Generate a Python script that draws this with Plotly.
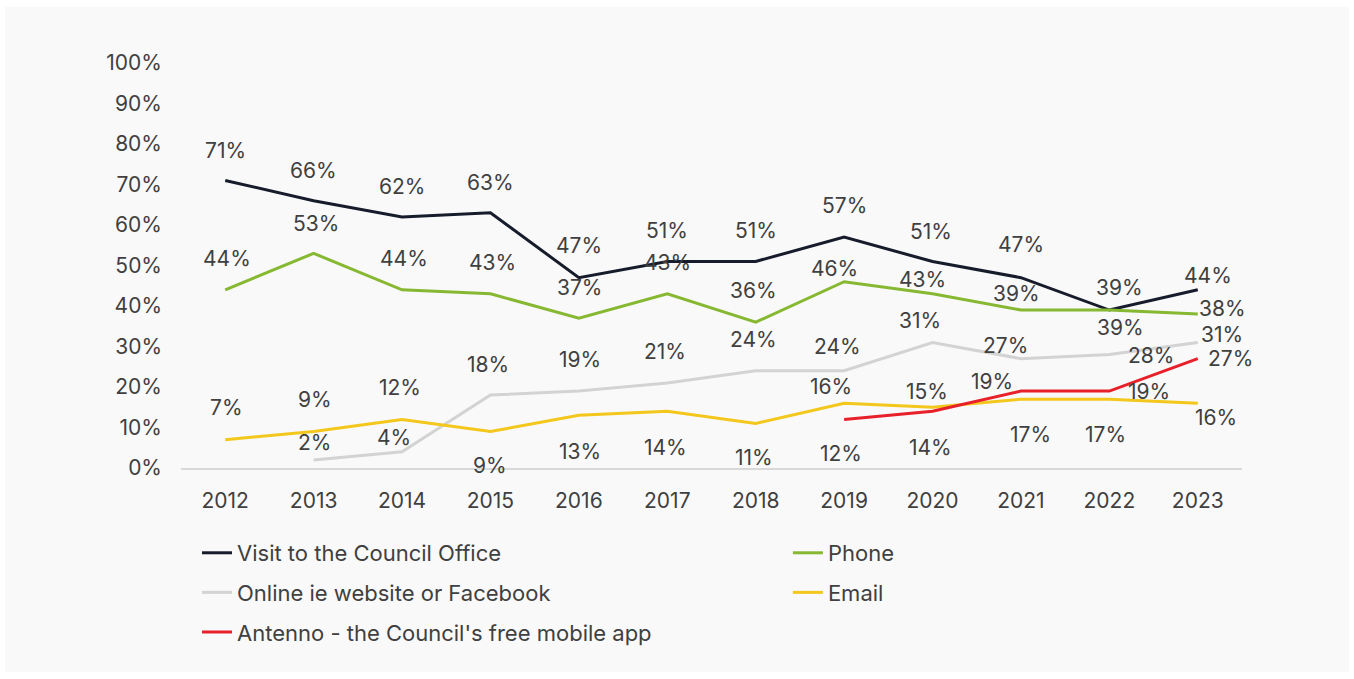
import plotly.graph_objects as go

# Survey results: preferred ways of contacting the Council (% of respondents)
years = ["2012", "2013", "2014", "2015", "2016", "2017", "2018", "2019", "2020", "2021", "2022", "2023"]

visit = [71, 66, 62, 63, 47, 51, 51, 57, 51, 47, 39, 44]
phone = [44, 53, 44, 43, 37, 43, 36, 46, 43, 39, 39, 38]
online = [None, 2, 4, 18, 19, 21, 24, 24, 31, 27, 28, 31]
email = [7, 9, 12, 9, 13, 14, 11, 16, 15, 17, 17, 16]
antenno = [None, None, None, None, None, None, None, 12, 14, 19, 19, 27]

names = [
    "Visit to the Council Office",
    "Phone",
    "Online ie website or Facebook",
    "Email",
    "Antenno - the Council's free mobile app",
]
colors = ["#161c2b", "#86b832", "#d3d3d3", "#f3c71b", "#e8202a"]
series = [visit, phone, online, email, antenno]
legend_ids = ["legend", "legend2", "legend", "legend2", "legend"]

# Data-label placement (pixel shifts from each point: dx, dy with dy up)
label_shift = [
    [(0, 30), (0, 30), (0, 30), (0, 30), (0, 32), (0, 31), (0, 31), (0, 32), (-2, 30), (0, 33), (10, 23), (10, 14)],
    [(2, 31), (2, 30), (2, 31), (2, 31), (1, 31), (0, 31), (-2, 32), (-10, 13), (-10, 14), (-4, 17), (11, -17), (25, 6)],
    [None, (1, 17), (-8, 14), (-2, 31), (1, 32), (-2, 31), (-2, 31), (-7, 24), (-13, 22), (-15, 13), (42, -1), (24, 8)],
    [(1, 32), (1, 32), (-2, 32), (0, -34), (1, -36), (-2, -36), (-2, -34), (-13, 17), (-6, 16), (10, -35), (-4, -35), (18, -14)],
    [None, None, None, None, None, None, None, (-3, -34), (-2, -36), (-29, 10), (40, 0), (33, 0)],
]

TEXT = "#404040"
FONT = "Inter"
SIZE = 21
LEGEND_SIZE = 22

fig = go.Figure()
for name, vals, col, lg in zip(names, series, colors, legend_ids):
    fig.add_trace(go.Scatter(
        x=years, y=vals, name=name, mode="lines",
        line=dict(color=col, width=3),
        connectgaps=False, legend=lg, legendgroup=name,
        hoverinfo="skip",
    ))

# value labels, positioned on the category axis by year index
for vals, shifts in zip(series, label_shift):
    for i, (v, s) in enumerate(zip(vals, shifts)):
        if v is None:
            continue
        fig.add_annotation(
            x=i, y=v, xref="x", yref="y", text=f"{v}%", showarrow=False,
            xshift=s[0], yshift=s[1],
            font=dict(family=FONT, size=SIZE, color=TEXT),
        )

fig.update_layout(
    width=1354, height=679,
    margin=dict(l=181, r=112, t=63, b=211),
    paper_bgcolor="white", plot_bgcolor="#f9f9f9",
    font=dict(family=FONT, size=SIZE, color=TEXT),
    shapes=[dict(
        type="rect", xref="paper", yref="paper", layer="below",
        x0=-0.1659, x1=1.1008, y0=-0.5037, y1=1.1383,
        fillcolor="#f9f9f9", line=dict(width=0),
    )],
    xaxis=dict(
        type="category", range=[-0.5, 11.5], showgrid=False, zeroline=False,
        showline=True, linecolor="#d9d9d9", linewidth=2,
        ticks="", ticklabelstandoff=13,
        tickfont=dict(family=FONT, size=SIZE, color=TEXT),
    ),
    yaxis=dict(
        range=[0, 100], dtick=10, ticksuffix="%", showgrid=False,
        zeroline=False, showline=False, ticks="", ticklabelstandoff=18,
        tickfont=dict(family=FONT, size=SIZE, color=TEXT),
    ),
    legend=dict(
        orientation="v", x=0.0151, xanchor="left", y=-0.158, yanchor="top",
        bgcolor="rgba(0,0,0,0)", tracegroupgap=8,
        font=dict(family=FONT, size=LEGEND_SIZE, color=TEXT),
    ),
    legend2=dict(
        orientation="v", x=0.572, xanchor="left", y=-0.158, yanchor="top",
        bgcolor="rgba(0,0,0,0)", tracegroupgap=8,
        font=dict(family=FONT, size=LEGEND_SIZE, color=TEXT),
    ),
)

fig.write_html("out.html")
